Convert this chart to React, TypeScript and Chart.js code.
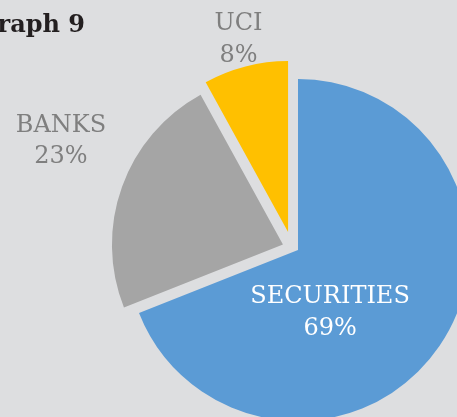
import { useEffect, useRef } from 'react';
import { Chart, registerables } from 'chart.js';

Chart.register(...registerables);

// ---- data ----
const categories = ['SECURITIES', 'BANKS', 'UCI'];
const shares = [69, 23, 8];
const percentLabels = ['69%', '23%', '8%'];
const titleText = 'Graph 9';

// ---- styles ----
const sliceColors = ['#5B9BD5', '#A5A5A5', '#FFC000'];
const explodePx = [0, 16, 20.5];
const explodeAngleShiftDeg = [0, 0, -14.6];
const labelColors = ['#ffffff', '#7f7f7f', '#7f7f7f'];
const labelRadiusFactor = [0.398, 1.532, 1.295];
const labelAngleShiftDeg = [27.7, 5.4, -1.2];
const BG = 'rgb(221,222,224)';
const FONT = '"DejaVu Serif", serif';

const piePlugin = {
  id: 'pieDecor',
  beforeDatasetsDraw(chart: any) {
    const area = chart.chartArea;
    const cx = (area.left + area.right) / 2;
    const cy = (area.top + area.bottom) / 2;
    chart.getDatasetMeta(0).data.forEach((arc: any, i: number) => {
      const mid = (arc.startAngle + arc.endAngle) / 2 + (explodeAngleShiftDeg[i] * Math.PI) / 180;
      arc.x = cx + Math.cos(mid) * explodePx[i];
      arc.y = cy + Math.sin(mid) * explodePx[i];
    });
  },
  afterDatasetsDraw(chart: any) {
    const ctx: CanvasRenderingContext2D = chart.ctx;
    const area = chart.chartArea;
    const cx = (area.left + area.right) / 2;
    const cy = (area.top + area.bottom) / 2;
    const lineH = 31.7;
    const capH = 18.3;
    ctx.save();
    ctx.font = `24px ${FONT}`;
    ctx.textAlign = 'center';
    ctx.textBaseline = 'alphabetic';
    chart.getDatasetMeta(0).data.forEach((arc: any, i: number) => {
      const mid = (arc.startAngle + arc.endAngle) / 2 + (labelAngleShiftDeg[i] * Math.PI) / 180;
      const r = arc.outerRadius * labelRadiusFactor[i];
      const x = cx + Math.cos(mid) * r;
      const y = cy + Math.sin(mid) * r;
      const b1 = y - lineH / 2 + capH / 2;
      ctx.fillStyle = labelColors[i];
      ctx.fillText(categories[i], x, b1);
      ctx.fillText(percentLabels[i], x, b1 + lineH);
    });
    ctx.font = `bold 24px ${FONT}`;
    ctx.textAlign = 'right';
    ctx.fillStyle = '#231f20';
    ctx.fillText(titleText, 85, 31.5);
    ctx.restore();
  },
};

export default function App() {
  const ref = useRef<HTMLCanvasElement | null>(null);
  useEffect(() => {
    document.body.style.margin = '0';
    document.body.style.background = BG;
    if (!ref.current) return;
    const chart = new Chart(ref.current, {
      type: 'pie',
      data: {
        labels: categories,
        datasets: [
          {
            data: shares,
            backgroundColor: sliceColors,
            borderWidth: 0,
            radius: 171,
            clip: false as any,
          } as any,
        ],
      },
      options: {
        responsive: false,
        animation: false,
        events: [],
        layout: { padding: { left: 139, top: 83, right: 0, bottom: 0 } },
        plugins: {
          legend: { display: false },
          title: { display: false },
          tooltip: { enabled: false },
        },
      },
      plugins: [piePlugin],
    });
    return () => chart.destroy();
  }, []);
  return (
    <div style={{ position: 'fixed', left: 0, top: 0, width: 457, height: 417, background: BG, overflow: 'hidden' }}>
      <canvas ref={ref} width={457} height={417} style={{ width: 457, height: 417, display: 'block' }} />
    </div>
  );
}
